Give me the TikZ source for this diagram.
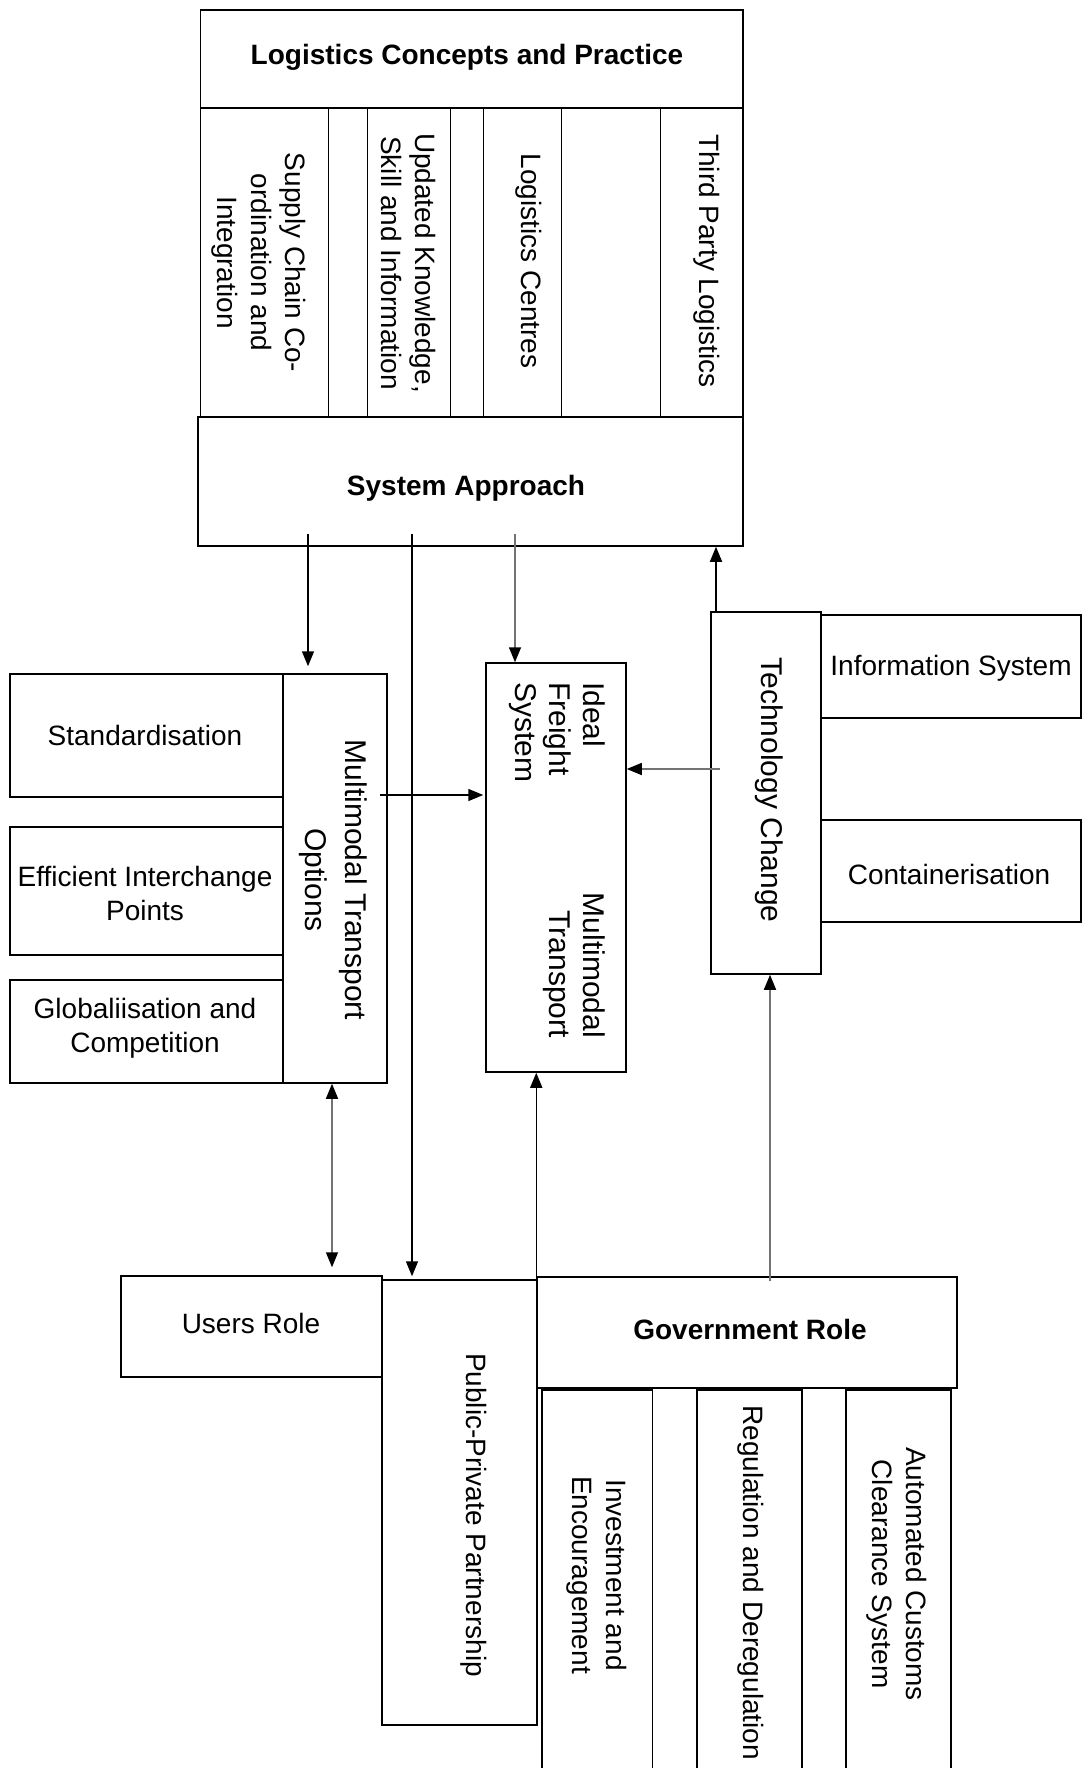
\documentclass[tikz,border=0pt]{standalone}
\usepackage{fontspec}
\setmainfont{Liberation Sans}
\usetikzlibrary{arrows.meta,fit}

\begin{document}
\begin{tikzpicture}[x=1pt,y=-1pt,
  box/.style={draw, line width=1.5pt, inner sep=0pt, fit={#1}},
  txt/.style={font=\fontsize{28}{34}\selectfont, align=center, inner sep=0pt},
  vtxt/.style={txt, rotate=-90},
  bigvtxt/.style={vtxt, font=\fontsize{30}{#1}\selectfont},
  btxt/.style={txt, font=\fontsize{28}{34}\selectfont\bfseries},
  >={Triangle[length=15pt,width=12pt]},
  arr/.style={draw=black, line width=1.5pt, ->},
  garr/.style={draw=black!55, line width=1.5pt, ->,
    >={Triangle[length=15pt,width=12pt,color=black]}}]

\path[use as bounding box, fill=white] (0,0) rectangle (1082,1768);

% ---------- logistics concepts block ----------
\node[box={(200.7,10) (743,108)}] (lcp) {};
\node[btxt] (lcp-t) at (467,57) {Logistics Concepts and Practice};

\node[box={(200.7,108) (328.6,417)}] (c1) {};
\node[box={(367.5,108) (450.7,417)}] (c2) {};
\node[box={(483.6,108) (561.4,417)}] (c3) {};
\node[box={(660.7,108) (743,417)}] (c4) {};
\node[vtxt] (c1-t) at (c1.center) [yshift=-6pt] {Supply Chain Co-\\ordination and\\Integration};
\node[vtxt] (c2-t) at (409,263) {Updated Knowledge,\\Skill and Information};
\node[vtxt] (c3-t) at (529,261) {Logistics Centres};
\node[vtxt] (c4-t) at (707,261) {Third Party Logistics};

\node[box={(198,417) (743,546)}] (sa) {};
\node[btxt] (sa-t) at (466,488) {System Approach};

% ---------- multimodal transport options ----------
\node[box={(10,674) (283,797)}] (std) {};
\node[txt] (std-t) at (145,735) {Standardisation};
\node[box={(10,827) (283,955)}] (eip) {};
\node[txt] (eip-t) at (145,893) {Efficient Interchange\\Points};
\node[box={(10,980) (283,1083)}] (glob) {};
\node[txt] (glob-t) at (145,1028) {Globaliisation and\\Competition};
\node[box={(283,674) (387,1083)}] (mto) {};
\node[bigvtxt=40] (mto-t) at (333,880) {Multimodal Transport\\Options};

% ---------- ideal freight system ----------
\node[box={(486,663) (626,1072)}] (ifs) {};
\node[bigvtxt=34, anchor=west, align=left] (ifs-t1) at (557,682) {Ideal\\Freight\\System};
\node[bigvtxt=34, anchor=east, align=right] (ifs-t2) at (574,1038) {Multimodal\\Transport};

% ---------- technology change ----------
\node[box={(711,612) (821,974)}] (tc) {};
\node[bigvtxt=34] (tc-t) at (769,790) {Technology Change};
\node[box={(821,615) (1081,718)}] (info) {};
\node[txt] (info-t) at (951,668) {Information System};
\node[box={(821,820) (1081,922)}] (cont) {};
\node[txt] (cont-t) at (949,874) {Containerisation};

% ---------- roles ----------
\node[box={(121,1276) (382,1377)}] (users) {};
\node[txt] (users-t) at (251,1323) {Users Role};
\node[box={(382,1280) (537,1725)}] (ppp) {};
\node[vtxt] (ppp-t) at (474,1515) {Public-Private Partnership};
\node[box={(537,1277) (957,1388)}] (gov) {};
\node[btxt] (gov-t) at (750,1329) {Government Role};

\node[box={(542,1390) (652.5,1790)}] (inv) {};
\node[box={(697,1390) (802,1790)}] (reg) {};
\node[box={(846,1390) (951,1790)}] (acc) {};
\node[vtxt] (inv-t) at (597,1575) {Investment and\\Encouragement};
\node[vtxt, anchor=west] (reg-t) at (751,1405) {Regulation and Deregulation};
\node[vtxt] (acc-t) at (897,1574) {Automated Customs\\Clearance System};

% ---------- connectors ----------
\coordinate (sa-o1) at (308,534);
\coordinate (sa-o2) at (412,534);
\coordinate (sa-o3) at (515,534);
\coordinate (tc-o1) at (716,612);
\coordinate (tc-o2) at (720,769);
\coordinate (mto-o) at (380,795);
\coordinate (mu) at (332,0);
\coordinate (gt) at (770,1281);

\draw[arr, shorten >=7pt] (sa-o1) -- (sa-o1 |- mto.north);
\draw[arr, shorten >=3pt] (sa-o2) -- (sa-o2 |- ppp.north);
\draw[garr] (sa-o3) -- (sa-o3 |- ifs.north);
\draw[arr] (tc-o1) -- (tc-o1 |- sa.south);
\draw[arr, shorten >=2pt] (mto-o) -- (mto-o -| ifs.west);
\draw[garr] (tc-o2) -- (tc-o2 -| ifs.east);
\draw[garr, <->, shorten >=8pt] (mu |- mto.south) -- (mu |- users.north);
\draw[arr] (gov.north west) -- (gov.north west |- ifs.south);
\draw[garr] (gt) -- (gt |- tc.south);

\end{tikzpicture}
\end{document}
